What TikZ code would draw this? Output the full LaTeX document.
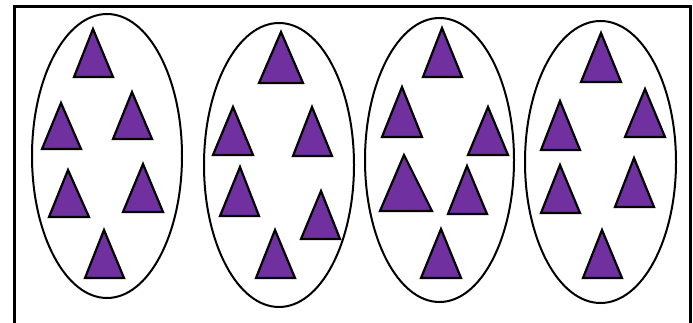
\documentclass[tikz,border=0pt]{standalone}
\definecolor{tripurple}{HTML}{7030A0}
\newcommand{\purtri}[5]{% apex x, apex y, base y, left x, right x
  \draw[tri] (#1pt,-#2pt) -- (#5pt,-#3pt) -- (#4pt,-#3pt) -- cycle;}
\begin{document}
\begin{tikzpicture}[x=1pt,y=1pt,
  tri/.style={fill=tripurple,draw=black,line width=2.2pt,line join=miter},
  oval/.style={draw=black,line width=2pt},
  frame/.style={draw=black,line width=3pt}]
\useasboundingbox (0,0) rectangle (693,-323);
\fill[white] (0,0) rectangle (693,-323);
% frame (open at the bottom)
\draw[frame] (14.5,-330) -- (14.5,-6.5) -- (690,-6.5) -- (690,-330);
% ovals
\draw[oval] (107,-156) ellipse [x radius=75, y radius=142];
\draw[oval] (279,-165) ellipse [x radius=75, y radius=142];
\draw[oval] (439.5,-160) ellipse [x radius=74.5, y radius=142];
\draw[oval] (600.5,-162) ellipse [x radius=75.5, y radius=141];
% group 1
\purtri{93}{29}{77}{74}{113}
\purtri{61}{103}{149}{42}{81}
\purtri{132}{92}{139}{113}{152}
\purtri{68}{170}{217}{49}{89}
\purtri{143}{164}{212}{123}{163}
\purtri{104}{230}{278}{85}{124}
% group 2
\purtri{281}{32}{83}{259}{303}
\purtri{233}{107}{155}{213}{253}
\purtri{312}{107}{156}{293}{332}
\purtri{240}{167}{216}{220}{259}
\purtri{321}{191}{239}{301}{340}
\purtri{275}{230}{278}{256}{295}
% group 3
\purtri{442}{28}{77}{423}{462}
\purtri{402}{87}{137}{382}{422}
\purtri{488}{107}{155}{468}{508}
\purtri{404}{155}{211}{380}{432}
\purtri{467}{166}{214}{448}{487}
\purtri{441}{229}{278}{421}{461}
% group 4
\purtri{601}{33}{82}{581}{621}
\purtri{560}{101}{150}{541}{580}
\purtri{645}{89}{137}{625}{665}
\purtri{560}{165}{213}{541}{580}
\purtri{634}{158}{207}{615}{654}
\purtri{602}{230}{278}{583}{622}
\end{tikzpicture}
\end{document}
